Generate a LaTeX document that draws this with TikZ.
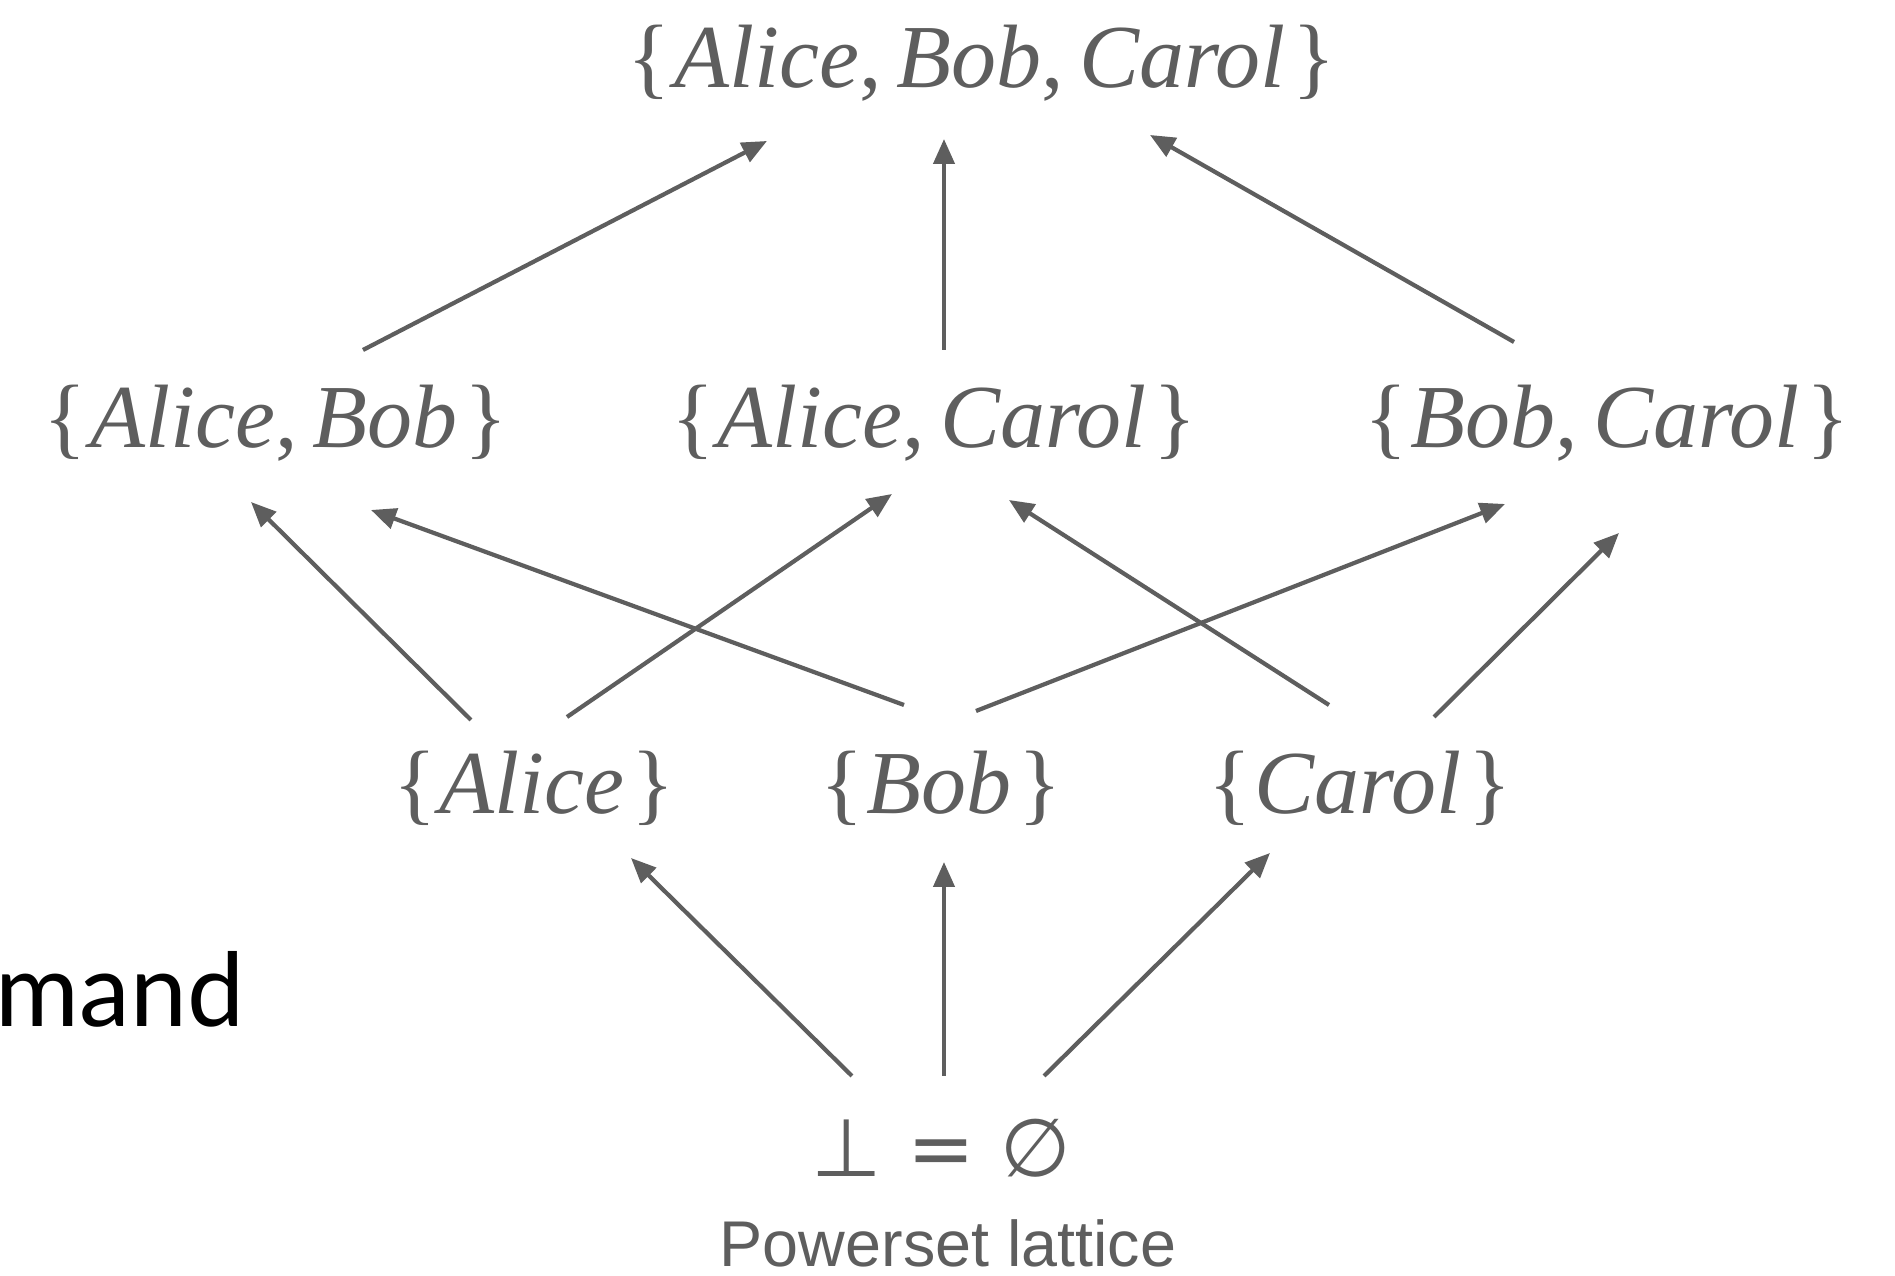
\documentclass[tikz,border=0pt]{standalone}
\usepackage{fontspec}
\setmainfont{Liberation Serif}
\newfontfamily\capfam{Liberation Sans}
\newfontfamily\dejavu{DejaVu Sans}
\newfontfamily\latofam{Lato}
\usetikzlibrary{arrows.meta}
\definecolor{latgray}{HTML}{5E5E5E}

\tikzset{
  elem/.style={text=latgray, inner sep=0pt, font=\fontsize{25.6}{30}\selectfont},
  up/.style={draw=latgray, line width=1.2pt, -{Triangle[length=0.25cm, width=0.21cm]}},
}

\begin{document}
\begin{tikzpicture}
\useasboundingbox (0,0) rectangle (18.95,12.76);

% the subsets, one row per size
\node[elem] (abc) at (9.82,12.13) {\{\kern1pt\textit{Alice},\,\textit{Bob},\,\textit{Carol}\kern2pt\}};
\node[elem] (ab) at (2.76,8.53) {\{\kern1pt\textit{Alice},\,\textit{Bob}\kern2pt\}};
\node[elem] (ac) at (9.34,8.53) {\{\kern1pt\textit{Alice},\,\textit{Carol}\kern2pt\}};
\node[elem] (bc) at (16.07,8.53) {\{\kern1pt\textit{Bob},\,\textit{Carol}\kern2pt\}};
\node[elem] (a) at (5.34,4.88) {\{\kern1pt\textit{Alice}\kern2pt\}};
\node[elem] (b) at (9.41,4.88) {\{\kern1pt\textit{Bob}\kern2pt\}};
\node[elem] (c) at (13.60,4.88) {\{\kern1pt\textit{Carol}\kern2pt\}};
\node[elem, font=\dejavu\fontsize{23}{27}\selectfont] (bot) at (9.41,1.28) {⊥ = ∅};

\node[anchor=base, inner sep=0pt, text=latgray, font=\capfam\fontsize{18.4}{22}\selectfont] (caption) at (9.48,0.09) {Powerset lattice};
\node[anchor=base west, inner sep=0pt, font=\latofam\fontsize{29}{34}\selectfont] (mand) at (-0.05,2.49) {mand};

% order arrows
\draw[up] ([shift={(0.87,0.73)}]ab.center) -- ([shift={(-2.15,-0.78)}]abc.center);
\draw[up] ([shift={(0.10,0.73)}]ac.center) -- ([shift={(-0.38,-0.76)}]abc.center);
\draw[up] ([shift={(-0.93,0.81)}]bc.center) -- ([shift={(1.68,-0.72)}]abc.center);

\draw[up] ([shift={(-0.63,0.68)}]a.center) -- ([shift={(-0.25,-0.79)}]ab.center);
\draw[up] ([shift={(0.33,0.71)}]a.center) -- ([shift={(-0.42,-0.71)}]ac.center);
\draw[up] ([shift={(-0.37,0.83)}]b.center) -- ([shift={(0.95,-0.87)}]ab.center);
\draw[up] ([shift={(0.35,0.77)}]b.center) -- ([shift={(-1.02,-0.81)}]bc.center);
\draw[up] ([shift={(-0.31,0.83)}]c.center) -- ([shift={(0.75,-0.77)}]ac.center);
\draw[up] ([shift={(0.74,0.71)}]c.center) -- ([shift={(0.12,-1.10)}]bc.center);

\draw[up] ([shift={(-0.89,0.72)}]bot.center) -- ([shift={(0.97,-0.70)}]a.center);
\draw[up] ([shift={(0.03,0.72)}]bot.center) -- ([shift={(0.03,-0.74)}]b.center);
\draw[up] ([shift={(1.03,0.72)}]bot.center) -- ([shift={(-0.90,-0.65)}]c.center);
\end{tikzpicture}
\end{document}
